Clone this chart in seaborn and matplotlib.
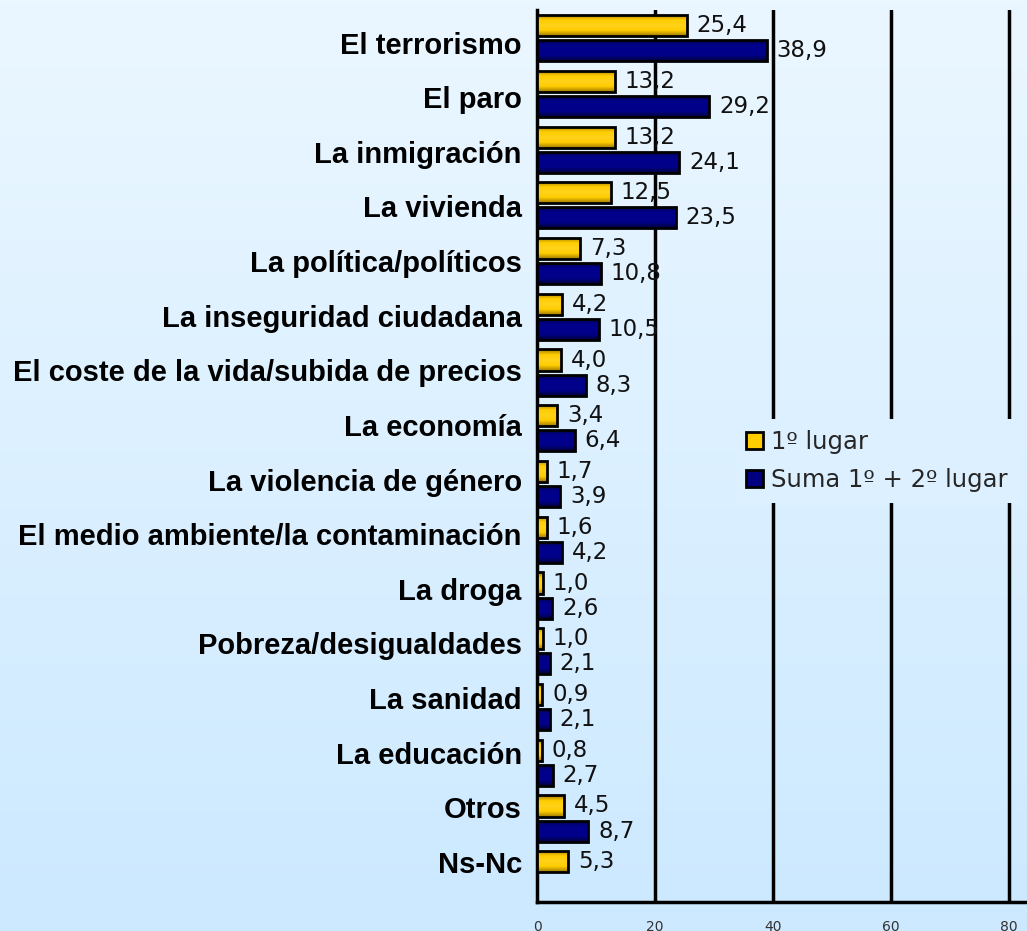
import numpy as np
import pandas as pd
import matplotlib
matplotlib.use("Agg")
import matplotlib.pyplot as plt
import seaborn as sns
from matplotlib.colors import LinearSegmentedColormap

categories = [
    "El terrorismo", "El paro", "La inmigración", "La vivienda",
    "La política/políticos", "La inseguridad ciudadana",
    "El coste de la vida/subida de precios", "La economía",
    "La violencia de género", "El medio ambiente/la contaminación",
    "La droga", "Pobreza/desigualdades", "La sanidad", "La educación",
    "Otros", "Ns-Nc",
]
primer_lugar = [25.4, 13.2, 13.2, 12.5, 7.3, 4.2, 4.0, 3.4, 1.7, 1.6,
                1.0, 1.0, 0.9, 0.8, 4.5, 5.3]
suma_lugares = [38.9, 29.2, 24.1, 23.5, 10.8, 10.5, 8.3, 6.4, 3.9, 4.2,
                2.6, 2.1, 2.1, 2.7, 8.7, np.nan]
series_names = ["1º lugar", "Suma 1º + 2º lugar"]
series_colors = ["#FFCC00", "#000080"]
x_ticks = [0, 20, 40, 60, 80]

df = pd.concat([
    pd.DataFrame({"tema": categories, "valor": primer_lugar, "serie": series_names[0]}),
    pd.DataFrame({"tema": categories, "valor": suma_lugares, "serie": series_names[1]}),
], ignore_index=True)

sns.set_theme(style="white")
plt.rcParams["font.family"] = ["DejaVu Sans"]

fig = plt.figure(figsize=(10.27, 9.31), dpi=100)

# light blue vertical gradient behind everything
bg = fig.add_axes([0, 0, 1, 1], zorder=-10)
grad = np.linspace(0, 1, 256).reshape(-1, 1)
cmap_bg = LinearSegmentedColormap.from_list("bg", ["#EBF7FF", "#CCE9FF"])
bg.imshow(grad, aspect="auto", cmap=cmap_bg, extent=[0, 1, 0, 1])
bg.axis("off")

ax = fig.add_axes([0.523, 0.031, 0.477, 0.958])
ax.patch.set_alpha(0)

sns.barplot(
    data=df, y="tema", x="valor", hue="serie", orient="h",
    palette=series_colors, saturation=1, width=0.9, gap=0.16,
    edgecolor="black", linewidth=2, ax=ax, zorder=3,
)

# shaded fill for each bar: darker along the long edges, bright in the middle
shade = {
    series_colors[0]: LinearSegmentedColormap.from_list("y", ["#9C7A00", "#FFCC00", "#FFD21A", "#FFCC00", "#9C7A00"]),
    series_colors[1]: LinearSegmentedColormap.from_list("n", ["#00003A", "#000088", "#00008C", "#000088", "#00003A"]),
}
ramp = np.linspace(0, 1, 64).reshape(-1, 1)
for cont, col in zip(ax.containers, series_colors):
    for bar in cont.patches:
        x0, y0 = bar.get_x(), bar.get_y()
        w, h = bar.get_width(), bar.get_height()
        if not np.isfinite(w) or w <= 0:
            continue
        im = ax.imshow(ramp, cmap=shade[col], aspect="auto",
                       extent=[x0, x0 + w, y0 + h, y0], zorder=3.5,
                       interpolation="bilinear")
        im.set_clip_path(bar)
        bar.set_facecolor("none")
        bar.set_zorder(4)

ax.set_xlim(0, 83)
ax.set_ylim(15.5, -0.5)
ax.set_xticks(x_ticks)
ax.set_xticklabels([str(t) for t in x_ticks], fontsize=10, color="#333333")
ax.tick_params(axis="x", direction="out", length=5, width=2.5, color="black", pad=8)
ax.set_yticks(np.arange(len(categories)) * 0.98 + 0.08)
ax.set_yticklabels(categories)
ax.tick_params(axis="y", length=0, pad=11)
for lbl in ax.get_yticklabels():
    lbl.set_fontfamily("Liberation Sans")
    lbl.set_fontweight("bold")
    lbl.set_fontsize(21)
    lbl.set_color("#000000")

for t in x_ticks[1:]:
    ax.axvline(t, color="black", linewidth=2.5, zorder=1)

for side in ["top", "right"]:
    ax.spines[side].set_visible(False)
for side in ["left", "bottom"]:
    ax.spines[side].set_color("black")
    ax.spines[side].set_linewidth(2.5)

ax.set_xlabel("")
ax.set_ylabel("")

for cont in ax.containers:
    labels = ["" if np.isnan(v) else f"{v:.1f}".replace(".", ",") for v in cont.datavalues]
    ax.bar_label(cont, labels=labels, padding=7, fontsize=16.5, color="#111111", zorder=6)

# legend sits on an opaque panel that hides the grid lines behind it
leg = ax.legend(
    loc="upper left", bbox_to_anchor=(0.405, 0.542), frameon=True,
    facecolor="#DCF0FF", edgecolor="none", framealpha=1, fancybox=False,
    fontsize=17.5, handlelength=0.7, handleheight=0.7, handletextpad=0.3,
    labelspacing=0.6, borderaxespad=0, borderpad=0.45,
)
leg.set_zorder(10)
for h in leg.legend_handles:
    h.set_edgecolor("black")
    h.set_linewidth(2)

fig.savefig("out.png", dpi=100)
